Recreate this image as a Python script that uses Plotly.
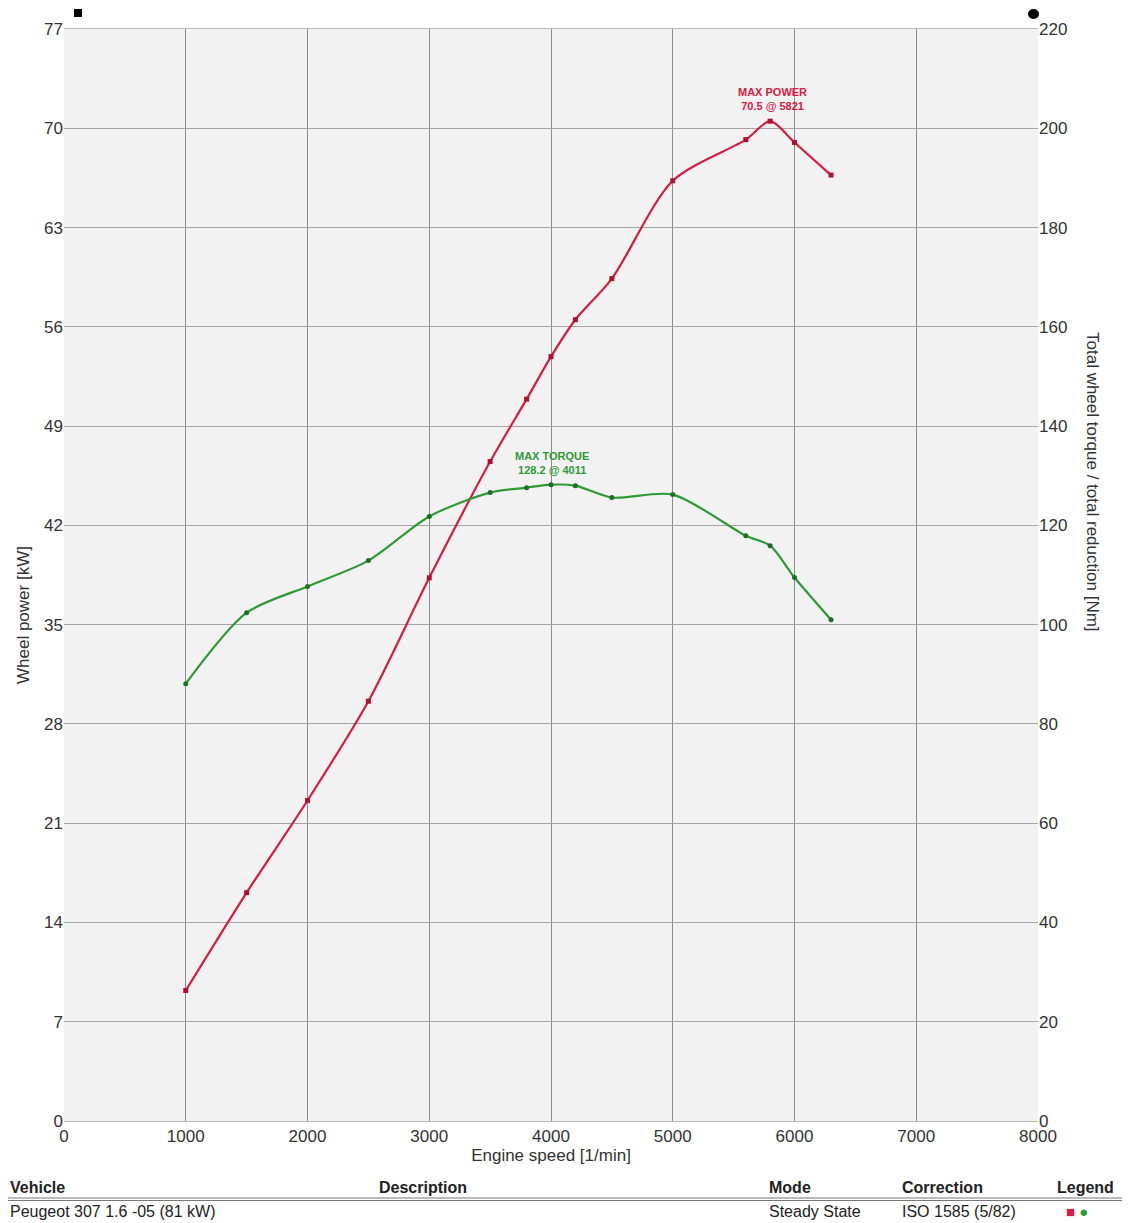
import plotly.graph_objects as go

rpm = [1000, 1500, 2000, 2500, 3000, 3500, 3800, 4000, 4200, 4500, 5000, 5600, 5800, 6000, 6300]
power_kw = [9.2, 16.1, 22.6, 29.6, 38.3, 46.5, 50.9, 53.9, 56.5, 59.4, 66.3, 69.2, 70.5, 69.0, 66.7]
torque_nm = [88.1, 102.4, 107.7, 112.9, 121.8, 126.6, 127.6, 128.2, 128.0, 125.6, 126.2, 117.9, 115.9, 109.5, 101.0]

left_ticks = [0, 7, 14, 21, 28, 35, 42, 49, 56, 63, 70, 77]
right_ticks = [0, 20, 40, 60, 80, 100, 120, 140, 160, 180, 200, 220]
x_ticks = [0, 1000, 2000, 3000, 4000, 5000, 6000, 7000, 8000]

RED = "#d81b44"
GREEN = "#2f9a35"
FONT = "Liberation Sans"
FS = 17

fig = go.Figure()
fig.add_trace(go.Scatter(
    x=rpm, y=power_kw, mode="lines+markers", name="Power",
    line=dict(color=RED, width=2.2, shape="spline", smoothing=0.8),
    marker=dict(color="#b0102f", size=5, symbol="square"),
    yaxis="y", showlegend=False))
fig.add_trace(go.Scatter(
    x=rpm, y=torque_nm, mode="lines+markers", name="Torque",
    line=dict(color=GREEN, width=2.2, shape="spline", smoothing=0.8),
    marker=dict(color="#1f6e24", size=5),
    yaxis="y2", showlegend=False))

# page has an 8px body margin; figure sized to fit the 1130x1223 window
fig.update_layout(
    width=1122, height=1215,
    margin=dict(l=56, r=92, t=21, b=102),
    paper_bgcolor="white", plot_bgcolor="#f2f2f2",
    font=dict(family=FONT, size=FS, color="#333"),
    xaxis=dict(range=[0, 8000], tickvals=x_ticks, showgrid=True, gridcolor="#8c8c8c",
               gridwidth=1, zeroline=False, showline=True, linecolor="#bbbbbb",
               mirror=True, ticks="", tickfont=dict(size=FS, color="#333"),
               title=dict(text="Engine speed [1/min]", font=dict(size=FS, color="#333"), standoff=2)),
    yaxis=dict(range=[0, 77], tickvals=left_ticks, showgrid=True, gridcolor="#a6a6a6",
               gridwidth=1, zeroline=False, showline=False, ticks="",
               tickfont=dict(size=FS, color="#333")),
    yaxis2=dict(range=[0, 220], tickvals=right_ticks, overlaying="y", side="right",
                showgrid=False, zeroline=False, showline=False, ticks="",
                tickfont=dict(size=FS, color="#333")),
)


def py(pix):
    return (1121 - pix) / 1092


def px(pix):
    return (pix - 64) / 974


ann = []
ann.append(dict(x=5821, y=70.5, xref="x", yref="y", text="<b>MAX POWER<br>70.5 @ 5821</b>",
                showarrow=False, yshift=22, font=dict(size=11, color=RED, family=FONT)))
ann.append(dict(x=4011, y=128.2, xref="x", yref="y2", text="<b>MAX TORQUE<br>128.2 @ 4011</b>",
                showarrow=False, yshift=22, font=dict(size=11, color=GREEN, family=FONT)))
ann.append(dict(x=px(23), y=py(615), xref="paper", yref="paper", xanchor="center", yanchor="middle",
                text="Wheel power [kW]", textangle=-90, showarrow=False,
                font=dict(size=FS, color="#333")))
ann.append(dict(x=px(1092), y=py(482), xref="paper", yref="paper", xanchor="center", yanchor="middle",
                text="Total wheel torque / total reduction [Nm]", textangle=90, showarrow=False,
                font=dict(size=FS, color="#333")))

headers = [("Vehicle", 8), ("Description", 377), ("Mode", 767), ("Correction", 900), ("Legend", 1055)]
for t, xp in headers:
    ann.append(dict(x=px(xp), y=py(1187), xref="paper", yref="paper", xanchor="left", yanchor="middle",
                    text="<b>" + t + "</b>", showarrow=False, font=dict(size=16, color="#222")))
row = [("Peugeot 307 1.6 -05 (81 kW)", 8), ("Steady State", 767), ("ISO 1585 (5/82)", 900)]
for t, xp in row:
    ann.append(dict(x=px(xp), y=py(1211), xref="paper", yref="paper", xanchor="left", yanchor="middle",
                    text=t, showarrow=False, font=dict(size=16, color="#222")))
ann.append(dict(x=px(1064), y=py(1211), xref="paper", yref="paper", xanchor="left", yanchor="middle",
                text="<span style='color:%s'>■</span> <span style='color:%s'>●</span>" % (RED, GREEN),
                showarrow=False, font=dict(size=15)))
fig.update_layout(annotations=ann)

# small black axis markers above the plot
fig.add_shape(type="rect", xref="paper", yref="paper", x0=px(74), x1=px(82), y0=py(17), y1=py(9),
              fillcolor="black", line=dict(width=0))
fig.add_shape(type="circle", xref="paper", yref="paper", x0=px(1028), x1=px(1039), y0=py(19), y1=py(9),
              fillcolor="black", line=dict(width=0))

fig.add_shape(type="line", xref="paper", yref="paper", x0=px(0), x1=px(1122), y0=py(1198), y1=py(1198),
              line=dict(color="#777", width=1))
fig.add_shape(type="line", xref="paper", yref="paper", x0=px(0), x1=px(1122), y0=py(1200.5), y1=py(1200.5),
              line=dict(color="#777", width=1))

fig.write_html("out.html")
